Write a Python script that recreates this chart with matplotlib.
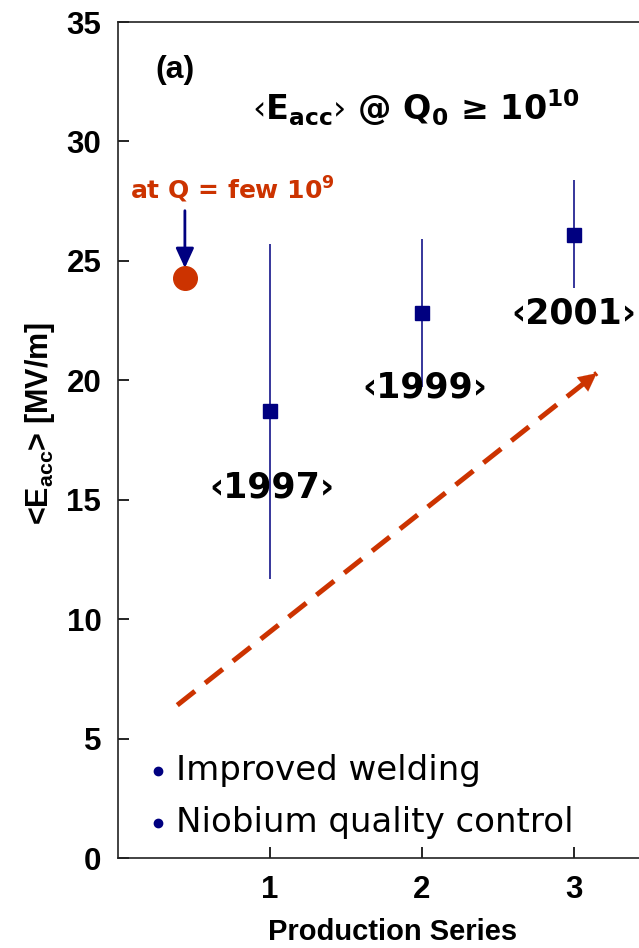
import matplotlib
matplotlib.use("Agg")
import matplotlib.pyplot as plt

# production series data
series_x = [1, 2, 3]
series_y = [18.7, 22.8, 26.1]
err_low = [11.7, 19.7, 23.85]
err_high = [25.7, 25.9, 28.4]
year_labels = ["\u20391997\u203a", "\u20391999\u203a", "\u20392001\u203a"]
label_x = [1.01, 2.02, 3.0]
label_y = [15.5, 19.7, 22.8]

# earlier point measured at lower Q
early_x = [0.44]
early_y = [24.3]

# trend arrow endpoints
trend_x = [0.39, 3.15]
trend_y = [6.4, 20.3]

bullets = ["Improved welding", "Niobium quality control"]
bullet_y = [3.68, 1.5]

NAVY = "#000080"
ORANGE = "#CC3300"
TICK_FONT = ["Liberation Sans", "DejaVu Sans"]
HAND_FONT = ["DejaVu Sans"]

fig = plt.figure(figsize=(6.39, 9.48), dpi=100)
ax = fig.add_axes([118 / 639, 90 / 948, 532 / 639, 836 / 948])

yerr = [[y - lo for y, lo in zip(series_y, err_low)],
        [hi - y for y, hi in zip(series_y, err_high)]]
ax.errorbar(series_x, series_y, yerr=yerr, fmt="s", color=NAVY, ms=10.5,
            elinewidth=1.1, capsize=0, zorder=3)
ax.plot(early_x, early_y, "o", color=ORANGE, ms=17, zorder=3)

for txt, x, y in zip(year_labels, label_x, label_y):
    ax.text(x, y, txt, ha="center", va="center", fontsize=25,
            fontweight="bold", family=HAND_FONT)

# dashed trend arrow, head drawn separately along the same direction
ax.plot(trend_x, trend_y, color=ORANGE, lw=3.6, dashes=(4.5, 2.6),
        solid_capstyle="butt", zorder=2)
back = 0.06
ax.annotate("", xy=(trend_x[1], trend_y[1]),
            xytext=(trend_x[1] - back * (trend_x[1] - trend_x[0]),
                    trend_y[1] - back * (trend_y[1] - trend_y[0])),
            arrowprops=dict(arrowstyle="-|>,head_length=1.3,head_width=0.65",
                            color=ORANGE, lw=0.1, shrinkA=0, shrinkB=0))

# note arrow above early point
ax.annotate("", xy=(early_x[0], 24.7), xytext=(early_x[0], 27.1),
            arrowprops=dict(arrowstyle="-|>,head_length=1.2,head_width=0.55",
                            color=NAVY, lw=2, shrinkA=0, shrinkB=0))
ax.text(0.75, 27.95, "at Q = few 10$^{\\mathregular{9}}$", color=ORANGE,
        ha="center", va="center", fontsize=18, fontweight="bold",
        family=HAND_FONT)

ax.text(0.375, 33.0, "(a)", ha="center", va="center", fontsize=23,
        fontweight="bold", family=TICK_FONT)
ax.text(1.96, 31.4,
        "\u2039E$_{\\mathregular{acc}}$\u203a @ Q$_{\\mathregular{0}}$ \u2265 10$^{\\mathregular{10}}$",
        ha="center", va="center", fontsize=24, fontweight="bold",
        family=HAND_FONT)

for txt, y in zip(bullets, bullet_y):
    ax.plot(0.26, y - 0.05, "o", color=NAVY, ms=6)
    ax.text(0.38, y, txt, ha="left", va="center", fontsize=24.5,
            family=HAND_FONT)

ax.set_xlim(0, 3.5)
ax.set_ylim(0, 35)
ax.set_xticks([1, 2, 3])
ax.set_yticks(range(0, 36, 5))
ax.tick_params(direction="in", length=8, width=1.2, pad=12)
for lab in ax.get_xticklabels() + ax.get_yticklabels():
    lab.set_fontsize(22.5)
    lab.set_fontweight("bold")
    lab.set_family(TICK_FONT)
for sp in ax.spines.values():
    sp.set_linewidth(1.2)
    sp.set_color("#222222")

fig.text(40 / 639, 1 - 423 / 948, "<E$_{\\mathregular{acc}}$> [MV/m]",
         rotation=90, ha="center", va="center", fontsize=22,
         fontweight="bold", family=TICK_FONT)
fig.text(393 / 639, 1 - 932 / 948, "Production Series", ha="center",
         va="center", fontsize=21, fontweight="bold", family=TICK_FONT)

fig.savefig("out.png", dpi=100)
